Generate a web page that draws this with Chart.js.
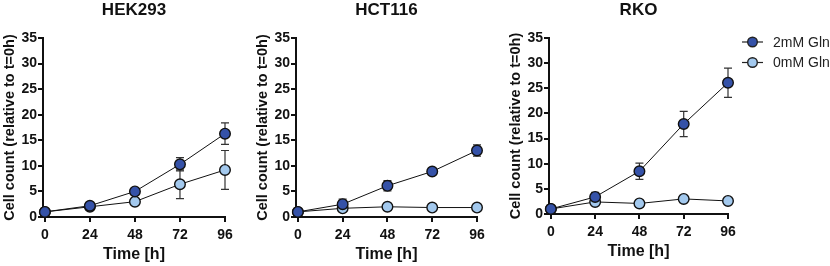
<!DOCTYPE html>
<html>
<head>
<meta charset="utf-8">
<script src="https://cdn.jsdelivr.net/npm/chart.js@4.4.0/dist/chart.umd.min.js"></script>
<style>
    body { margin: 0; background: #fff; }
    #wrap { position: relative; width: 830px; height: 266px; overflow: hidden; }
    canvas { position: absolute; top: 0; }
</style>
</head>
<body>
<div id="wrap">
    <canvas id="hek" width="239" height="266" style="left:0px"></canvas>
    <canvas id="hct" width="238" height="266" style="left:253px"></canvas>
    <canvas id="rko" width="324" height="263" style="left:506px"></canvas>
</div>
<script>
//Axis ticks
const hours = [0, 24, 48, 72, 96];
const yTicks = [0, 5, 10, 15, 20, 25, 30, 35];
const seriesNames = ['2mM Gln', '0mM Gln'];

//HEK293 (mean / error)
const hek2mM = [1, 2.2, 5.0, 10.3, 16.3];
const hek2mMErr = [0.1, 0.4, 0.4, 1.3, 2.1];
const hek0mM = [1, 2.0, 3.0, 6.4, 9.2];
const hek0mMErr = [0.1, 0.2, 0.3, 2.8, 3.8];

//HCT116
const hct2mM = [1, 2.5, 6.1, 8.9, 13.0];
const hct2mMErr = [0.1, 1.0, 1.0, 0.5, 1.1];
const hct0mM = [1, 1.7, 2.0, 1.85, 1.85];
const hct0mMErr = [0.1, 0.2, 0.2, 0.2, 0.2];

//RKO
const rko2mM = [1, 3.4, 8.5, 17.9, 26.1];
const rko2mMErr = [0.1, 0.9, 1.6, 2.5, 2.9];
const rko0mM = [1, 2.4, 2.1, 3.0, 2.6];
const rko0mMErr = [0.1, 0.2, 0.2, 0.3, 0.3];

const darkBlue = '#3552a8';
const lightBlue = '#a3c9ee';
const font = '"Liberation Sans", Arial, sans-serif';

//Error bars drawn under the markers
const errorBars = {
    id: 'errorBars',
    beforeDatasetsDraw(chart) {
        const ctx = chart.ctx;
        const y = chart.scales.y;
        ctx.save();
        ctx.strokeStyle = '#333';
        ctx.lineWidth = 1.2;
        chart.data.datasets.forEach(function (ds, di) {
            const meta = chart.getDatasetMeta(di);
            ds.errors.forEach(function (e, i) {
                const pt = meta.data[i];
                const top = y.getPixelForValue(ds.data[i].y + e);
                const bot = y.getPixelForValue(ds.data[i].y - e);
                ctx.beginPath();
                ctx.moveTo(pt.x, top); ctx.lineTo(pt.x, bot);
                ctx.moveTo(pt.x - 4, top); ctx.lineTo(pt.x + 4, top);
                ctx.moveTo(pt.x - 4, bot); ctx.lineTo(pt.x + 4, bot);
                ctx.stroke();
            });
        });
        ctx.restore();
    }
};

//Legend with line + circle symbol (only RKO panel)
const sideLegend = {
    id: 'sideLegend',
    afterDraw(chart, args, opts) {
        if (!opts.show) return;
        const ctx = chart.ctx;
        ctx.save();
        chart.data.datasets.forEach(function (ds, i) {
            const cy = 42 + i * 20.5;
            ctx.strokeStyle = '#222';
            ctx.lineWidth = 1.2;
            ctx.beginPath();
            ctx.moveTo(236, cy); ctx.lineTo(257, cy);
            ctx.stroke();
            ctx.beginPath();
            ctx.arc(246.5, cy, 4.8, 0, Math.PI * 2);
            ctx.fillStyle = ds.backgroundColor;
            ctx.fill();
            ctx.lineWidth = 1.4;
            ctx.stroke();
            ctx.fillStyle = '#222';
            ctx.font = '14px ' + font;
            ctx.textBaseline = 'middle';
            ctx.fillText(ds.label, 267, cy + 1);
        });
        ctx.restore();
    }
};

function series(label, vals, errs, color) {
    return {
        label: label,
        data: hours.map(function (h, i) { return {x: h, y: vals[i]}; }),
        errors: errs,
        clip: false,
        backgroundColor: color,
        borderColor: '#111',
        borderWidth: 1,
        pointBorderColor: '#111',
        pointBorderWidth: 1.4,
        pointRadius: 5.3,
        pointBackgroundColor: color
    };
}

function makePanel(id, title, v2, e2, v0, e0, padRight, legend) {
    return new Chart(document.getElementById(id), {
        type: 'line',
        data: {
            datasets: [
                series(seriesNames[0], v2, e2, darkBlue),
                series(seriesNames[1], v0, e0, lightBlue)
            ]
        },
        options: {
            responsive: false,
            animation: false,
            layout: { padding: { left: 0, right: padRight, top: 0, bottom: 0 } },
            plugins: {
                legend: { display: false },
                tooltip: { enabled: false },
                sideLegend: { show: legend },
                title: {
                    display: true,
                    text: title,
                    fullSize: false,
                    color: '#111',
                    font: { family: font, size: 17, weight: 'bold' },
                    padding: { top: 0, bottom: 17.6 }
                }
            },
            scales: {
                x: {
                    type: 'linear',
                    min: -1,
                    max: 96,
                    afterBuildTicks: function (s) { s.ticks = hours.map(function (v) { return {value: v}; }); },
                    afterFit: function (s) { s.height = 49; },
                    grid: { display: true, drawOnChartArea: false, tickLength: 5, color: '#111', lineWidth: 2 },
                    border: { display: true, color: '#111', width: 2 },
                    ticks: { color: '#111', padding: 5, maxRotation: 0, font: { family: font, size: 14, weight: 'bold' } },
                    title: { display: true, text: 'Time [h]', color: '#111', padding: { top: 0, bottom: 2 },
                        font: { family: font, size: 16, weight: 'bold' } }
                },
                y: {
                    min: 0,
                    max: 35,
                    afterBuildTicks: function (s) { s.ticks = yTicks.map(function (v) { return {value: v}; }); },
                    afterFit: function (s) { s.width = 43; },
                    grid: { display: true, drawOnChartArea: false, tickLength: 5, color: '#111', lineWidth: 2 },
                    border: { display: true, color: '#111', width: 2 },
                    ticks: { color: '#111', padding: 1, font: { family: font, size: 14, weight: 'bold' } },
                    title: { display: true, text: 'Cell count (relative to t=0h)', color: '#111', padding: { top: 1, bottom: 0 },
                        font: { family: font, size: 14.5, weight: 'bold' } }
                }
            }
        },
        plugins: [errorBars, sideLegend]
    });
}

makePanel('hek', 'HEK293', hek2mM, hek2mMErr, hek0mM, hek0mMErr, 14, false);
makePanel('hct', 'HCT116', hct2mM, hct2mMErr, hct0mM, hct0mMErr, 14, false);
makePanel('rko', 'RKO', rko2mM, rko2mMErr, rko0mM, rko0mMErr, 102, true);
</script>
</body>
</html>
